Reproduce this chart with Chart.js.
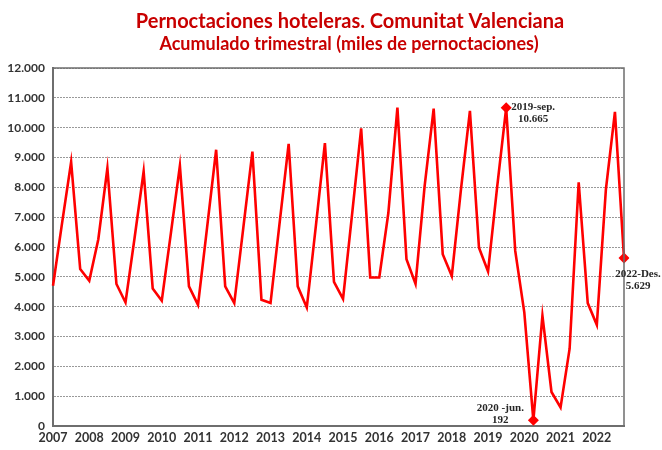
<!DOCTYPE html>
<html>
<head>
<meta charset="utf-8">
<script src="https://cdn.jsdelivr.net/npm/chart.js@4"></script>
<style>
html,body{margin:0;padding:0;background:#fff;}
#wrap{width:662px;height:450px;}
</style>
</head>
<body>
<div id="wrap"><canvas id="c" width="662" height="450"></canvas></div>
<script>
const years = ['2007','2008','2009','2010','2011','2012','2013','2014','2015','2016','2017','2018','2019','2020','2021','2022'];
const quarters = ['mar','jun','sep','des'];
// miles de pernoctaciones, trimestral
const values = [
  4700, 6800, 8850, 5260,
  4870, 6260, 8640, 4760,
  4140, 6300, 8530, 4610,
  4200, 6450, 8720, 4680,
  4060, 6650, 9260, 4680,
  4120, 6650, 9200, 4230,
  4120, 6800, 9460, 4680,
  3970, 6700, 9480, 4830,
  4260, 7100, 9980, 4980,
  4980, 7140, 10670, 5590,
  4760, 8030, 10640, 5760,
  5030, 7900, 10560, 5980,
  5180, 8000, 10665, 5870,
  3810, 192, 3700, 1140,
  620, 2590, 8170, 4120,
  3390, 7920, 10530, 5629
];
const highlights = [
  {label: '2019-sep.', value: '10.665', idx: 50},
  {label: '2020 -jun.', value: '192', idx: 53},
  {label: '2022-Des.', value: '5.629', idx: 63}
];
const yTicks = [0,1000,2000,3000,4000,5000,6000,7000,8000,9000,10000,11000,12000];
const titleText = 'Pernoctaciones hoteleras. Comunitat Valenciana';
const subtitleText = 'Acumulado trimestral (miles de pernoctaciones)';

const labels = [];
years.forEach(y => quarters.forEach(q => labels.push(y + '-' + q)));

function fmt(v){
  const s = Math.round(v).toString();
  return s.replace(/\B(?=(\d{3})+(?!\d))/g, '.');
}

const hlIdx = highlights.map(h => h.idx);
const radii = values.map((v,i) => hlIdx.includes(i) ? 5.5 : 0);

const framePlugin = {
  id: 'frame',
  afterDatasetsDraw(chart){
    const {ctx, chartArea:a} = chart;
    ctx.save();
    ctx.strokeStyle = '#6e6e6e';
    ctx.lineWidth = 1.5;
    ctx.beginPath();
    ctx.moveTo(a.left, a.top); ctx.lineTo(a.right, a.top); ctx.lineTo(a.right, a.bottom);
    ctx.stroke();
    ctx.restore();
  },
  afterDraw(chart){
    const {ctx} = chart;
    const xs = chart.scales.x, ys = chart.scales.y;
    ctx.save();
    // titles
    ctx.fillStyle = '#c80000';
    ctx.textAlign = 'center';
    ctx.textBaseline = 'middle';
    ctx.font = 'bold 20px Lato';
    ctx.fillText(titleText, 350, 22);
    ctx.font = 'bold 18px Lato';
    ctx.fillText(subtitleText, 349, 44);
    // annotations
    ctx.font = 'bold 11px "Liberation Serif", "Times New Roman", serif';
    ctx.fillStyle = '#262626';
    const offs = [[27,-1],[-33,-12],[14,16]];
    highlights.forEach((h,k) => {
      const px = xs.getPixelForValue(h.idx);
      const py = ys.getPixelForValue(values[h.idx]);
      const cx = px + offs[k][0], cy = py + offs[k][1];
      ctx.fillText(h.label, cx, cy);
      ctx.fillText(h.value, cx, cy + 12);
    });
    ctx.restore();
  }
};

new Chart(document.getElementById('c'), {
  type: 'line',
  data: {
    labels: labels,
    datasets: [{
      data: values,
      borderColor: '#ff0000',
      backgroundColor: '#ff0000',
      borderWidth: 2.6,
      tension: 0,
      pointStyle: 'rectRot',
      pointRadius: radii,
      pointHoverRadius: radii,
      pointBorderWidth: 0,
      pointBackgroundColor: '#ff0000'
    }]
  },
  options: {
    responsive: false,
    animation: false,
    layout: {padding: {left: 0, right: 38, top: 68, bottom: 1}},
    plugins: {
      legend: {display: false},
      tooltip: {enabled: false},
      title: {display: false},
      subtitle: {display: false}
    },
    scales: {
      x: {
        type: 'category',
        offset: false,
        grid: {display: false, drawTicks: false},
        border: {display: true, color: '#6e6e6e', width: 2},
        ticks: {
          autoSkip: false,
          maxRotation: 0,
          padding: 4,
          color: '#333333',
          font: {family: 'Lato', size: 12.5, weight: 'bold'},
          callback: function(v, i){ return i % 4 === 0 ? years[i/4] : ''; }
        }
      },
      y: {
        min: 0, max: 12000,
        afterBuildTicks(axis){ axis.ticks = yTicks.map(v => ({value: v})); },
        afterFit(axis){ axis.width = 53; },
        grid: {color: '#999999', lineWidth: 1, drawTicks: false},
        border: {display: true, color: '#6e6e6e', width: 2, dash: [2,1]},
        ticks: {
          padding: 8,
          color: '#333333',
          font: {family: 'Lato', size: 12, weight: 'bold'},
          callback: v => fmt(v)
        }
      }
    }
  },
  plugins: [framePlugin]
});
</script>
</body>
</html>
